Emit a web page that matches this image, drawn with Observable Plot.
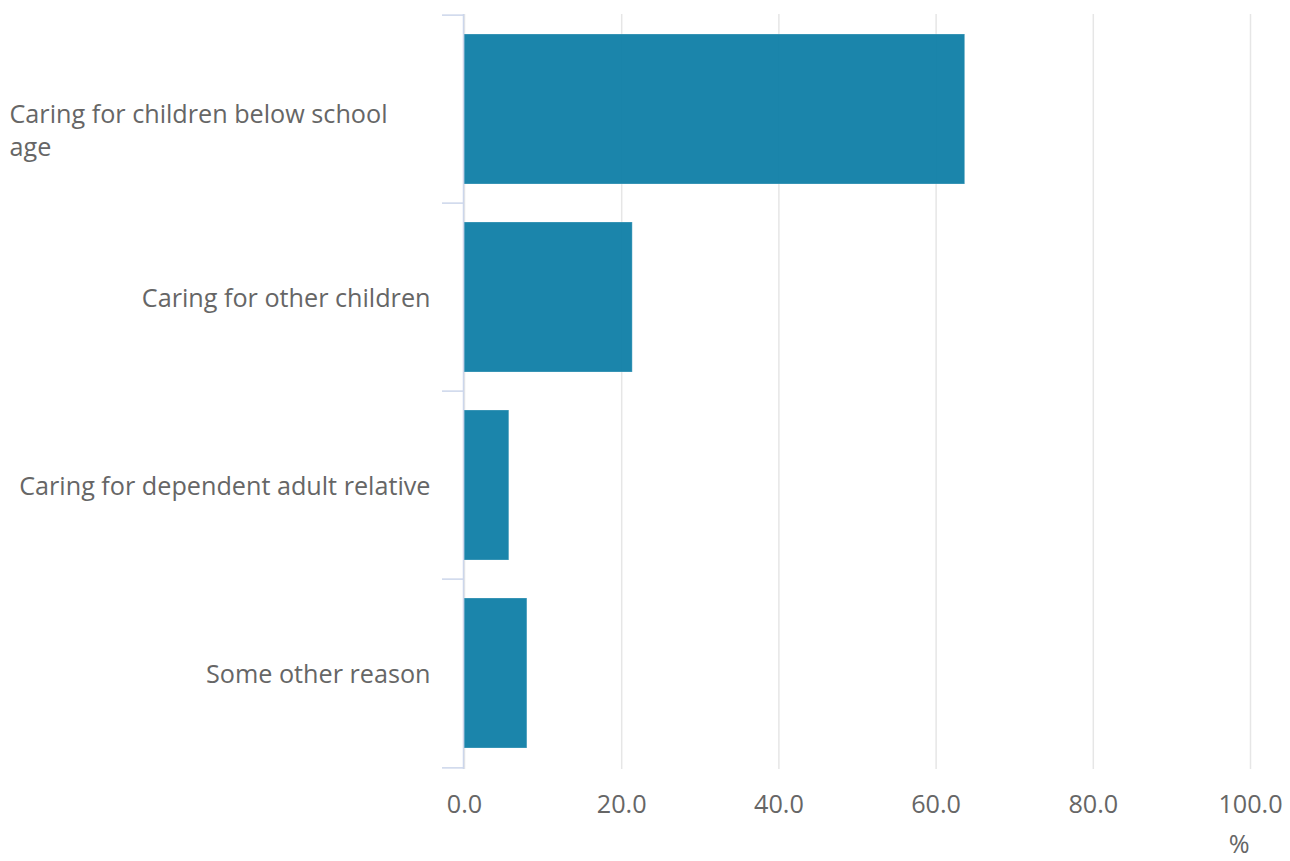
<!DOCTYPE html>
<html>
<head>
<meta charset="utf-8">
<script src="https://cdn.jsdelivr.net/npm/d3@7"></script>
<script src="https://cdn.jsdelivr.net/npm/@observablehq/plot@0.6"></script>
<style>
  html, body { margin: 0; padding: 0; background: #fff; }
  #chart { width: 1290px; height: 861px; }
  svg { font-family: "Open Sans", sans-serif; }
</style>
</head>
<body>
<div id="chart"></div>
<script>
const categories = [
  "Caring for children below school age",
  "Caring for other children",
  "Caring for dependent adult relative",
  "Some other reason"
];
const labelLines = [
  "Caring for children below school\nage",
  "Caring for other children",
  "Caring for dependent adult relative",
  "Some other reason"
];
const values = [63.7, 21.4, 5.7, 8.0];
const xTicks = [0, 20, 40, 60, 80, 100];
const unitLabel = "%";

const data = categories.map((c, i) => ({category: c, value: values[i], label: labelLines[i]}));

const W = 1290, H = 861, mT = 14, mB = 92, mL = 464, mR = 40;
const step = (H - mT - mB) / categories.length;
const FS = 25.2;

const textStyle = {fontSize: FS, fill: "#666666", fontFamily: "Open Sans"};

const plot = Plot.plot({
  width: W,
  height: H,
  marginTop: mT,
  marginBottom: mB,
  marginLeft: mL,
  marginRight: mR,
  style: {fontFamily: "Open Sans", background: "#fff"},
  x: {domain: [0, 100], ticks: xTicks},
  y: {domain: categories, paddingInner: 0.2, paddingOuter: 0.1},
  marks: [
    Plot.gridX(xTicks, {stroke: "#e6e6e6", strokeOpacity: 1, strokeWidth: 1.5}),
    Plot.barX(data, {y: "category", x: "value", fill: "#0f7ea6", fillOpacity: 0.95, stroke: "#ffffff", strokeOpacity: 0.25, strokeWidth: 1}),
    Plot.ruleX([0], {stroke: "#ccd6eb", strokeWidth: 1.5, dx: -1}),
    Plot.ruleY(categories, {y: d => d, x1: 0, x2: 0, insetLeft: -22, insetRight: 1, stroke: "#ccd6eb", strokeWidth: 1.5, dy: -step / 2}),
    Plot.ruleY([categories[categories.length - 1]], {y: d => d, x1: 0, x2: 0, insetLeft: -22, insetRight: 1, stroke: "#ccd6eb", strokeWidth: 1.5, dy: step / 2}),
    Plot.axisX(xTicks, {tickSize: 0, tickPadding: 25.5, tickFormat: d => d.toFixed(1), fontSize: FS, fill: "#666666", label: null}),
    Plot.axisY({ticks: [], label: null, tickSize: 0}),
    Plot.text(data.slice(1), {y: "category", text: "label", frameAnchor: "left", textAnchor: "end", dx: -34, dy: 1.5, lineAnchor: "middle", ...textStyle}),
    Plot.text(data.slice(0, 1), {y: "category", text: "label", frameAnchor: "left", textAnchor: "start", dx: -455, dy: 19.5, lineAnchor: "middle", lineHeight: 1.3, ...textStyle}),
    Plot.text([unitLabel], {text: d => d, frameAnchor: "bottom-right", textAnchor: "end", dx: -1, dy: 75.5, lineAnchor: "middle", ...textStyle})
  ]
});
document.getElementById("chart").appendChild(plot);
</script>
</body>
</html>
